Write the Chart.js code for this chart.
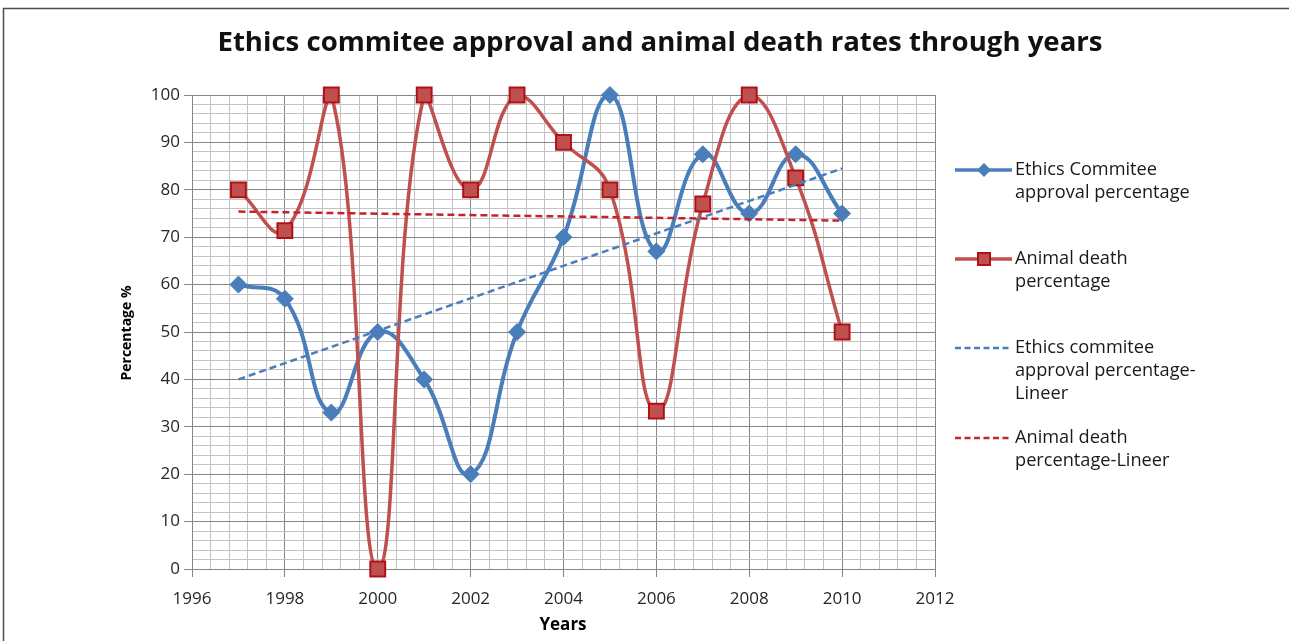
<!DOCTYPE html>
<html>
<head>
<meta charset="utf-8">
<script src="https://cdn.jsdelivr.net/npm/chart.js@4/dist/chart.umd.min.js"></script>
<style>
  html, body { margin: 0; padding: 0; background: #ffffff; }
  canvas { display: block; }
</style>
</head>
<body>
<canvas id="chart" width="1289" height="641"></canvas>
<script>
// ---- data ----
const years = [1997, 1998, 1999, 2000, 2001, 2002, 2003, 2004, 2005, 2006, 2007, 2008, 2009, 2010];
const ethicsApproval = [60, 57, 33, 50, 40, 20, 50, 70, 100, 67, 87.5, 75, 87.5, 75];
const animalDeath = [80, 71.4, 100, 0, 100, 80, 100, 90, 80, 33.3, 77, 100, 82.5, 50];

// linear trend lines (end points)
const trendYears = [1997, 2010];
const ethicsTrend = [40, 84.5];
const animalTrend = [75.4, 73.5];

// axes
const xRange = [1996, 2012];
const xLabelStep = 2;
const xGridStep = 0.4;
const yRange = [0, 100];
const yLabelStep = 10;
const yGridStep = 2;

const chartTitle = 'Ethics commitee approval and animal death rates through years';
const xTitle = 'Years';
const yTitle = 'Percentage %';
const seriesNames = [
  ['Ethics Commitee', 'approval percentage'],
  ['Animal death', 'percentage'],
  ['Ethics commitee', 'approval percentage-', 'Lineer'],
  ['Animal death', 'percentage-Lineer']
];

// ---- styles ----
const BLUE = '#4a7ebb';
const RED = '#c0504d';
const RED_EDGE = '#b01018';
const RED_TREND = '#c3242b';
const GRID_MAJOR = '#858585';
const GRID_MINOR = '#c3c3c3';
const TEXT = '#262626';
const FONT = '"Open Sans", "DejaVu Sans", sans-serif';

const toPoints = (xs, ys) => xs.map((x, i) => ({ x: x, y: ys[i] }));
const isMultiple = (v, step) => Math.abs(v / step - Math.round(v / step)) < 1e-6;

function fitFontSize(ctx, text, weight, target) {
  ctx.save();
  ctx.font = weight + ' 100px ' + FONT;
  const w = ctx.measureText(text).width;
  ctx.restore();
  return 100 * target / w;
}

// frame, title, axis titles and legend
const decorations = {
  id: 'decorations',
  beforeDraw(chart) {
    const ctx = chart.ctx;
    ctx.save();
    ctx.fillStyle = '#ffffff';
    ctx.fillRect(0, 0, chart.width, chart.height);
    ctx.strokeStyle = '#4d4d4d';
    ctx.lineWidth = 1.5;
    ctx.beginPath();
    ctx.moveTo(3.5, chart.height);
    ctx.lineTo(3.5, 8.5);
    ctx.lineTo(chart.width, 8.5);
    ctx.stroke();
    ctx.restore();
  },
  afterDraw(chart) {
    const ctx = chart.ctx;
    ctx.save();
    ctx.fillStyle = '#111111';
    ctx.textAlign = 'center';
    ctx.textBaseline = 'middle';

    // chart title
    const titleSize = fitFontSize(ctx, chartTitle, 'bold', 885);
    ctx.font = 'bold ' + titleSize.toFixed(2) + 'px ' + FONT;
    ctx.fillText(chartTitle, 660, 43);

    // axis titles
    ctx.fillStyle = '#000000';
    ctx.font = 'bold 17px ' + FONT;
    ctx.fillText(xTitle, 563, 625);
    ctx.save();
    ctx.translate(127, 333);
    ctx.rotate(-Math.PI / 2);
    ctx.font = 'bold 14px ' + FONT;
    ctx.fillText(yTitle, 0, 0);
    ctx.restore();

    // legend
    const rows = [170, 259, 348, 438];
    const lineGap = 23;
    const x0 = 955, x1 = 1012, xm = 984, tx = 1015;
    const legendSize = fitFontSize(ctx, 'approval percentage', 'normal', 175);
    rows.forEach((y, i) => {
      ctx.save();
      if (i === 0) {
        ctx.strokeStyle = BLUE; ctx.lineWidth = 3.5;
        ctx.beginPath(); ctx.moveTo(x0, y); ctx.lineTo(x1, y); ctx.stroke();
        ctx.fillStyle = BLUE;
        ctx.beginPath();
        ctx.moveTo(xm, y - 7); ctx.lineTo(xm + 7, y); ctx.lineTo(xm, y + 7); ctx.lineTo(xm - 7, y);
        ctx.closePath(); ctx.fill();
      } else if (i === 1) {
        ctx.strokeStyle = RED; ctx.lineWidth = 3.5;
        ctx.beginPath(); ctx.moveTo(x0, y); ctx.lineTo(x1, y); ctx.stroke();
        ctx.fillStyle = RED; ctx.strokeStyle = RED_EDGE; ctx.lineWidth = 2;
        ctx.fillRect(xm - 6, y - 6, 12, 12);
        ctx.strokeRect(xm - 6, y - 6, 12, 12);
      } else {
        ctx.strokeStyle = i === 2 ? BLUE : RED_TREND; ctx.lineWidth = 2.5;
        ctx.setLineDash([6, 3.5]);
        ctx.beginPath(); ctx.moveTo(x0, y); ctx.lineTo(x1, y); ctx.stroke();
      }
      ctx.restore();
      ctx.fillStyle = '#1a1a1a';
      ctx.textAlign = 'left';
      ctx.font = legendSize.toFixed(2) + 'px ' + FONT;
      seriesNames[i].forEach((line, k) => ctx.fillText(line, tx, y + k * lineGap));
    });
    ctx.restore();
  }
};

const tickFont = { family: FONT, size: 17 };

new Chart(document.getElementById('chart'), {
  type: 'line',
  data: {
    datasets: [
      {
        label: seriesNames[0].join(' '),
        data: toPoints(years, ethicsApproval),
        borderColor: BLUE, backgroundColor: BLUE,
        borderWidth: 4, tension: 0.45,
        pointStyle: 'rectRot', pointRadius: 8.5,
        pointBackgroundColor: BLUE, pointBorderColor: BLUE, pointBorderWidth: 1,
        clip: 14, order: 4
      },
      {
        label: seriesNames[1].join(' '),
        data: toPoints(years, animalDeath),
        borderColor: RED, backgroundColor: RED,
        borderWidth: 3.5, tension: 0.45,
        pointStyle: 'rect', pointRadius: 10.5,
        pointBackgroundColor: RED, pointBorderColor: RED_EDGE, pointBorderWidth: 2,
        clip: 14, order: 3
      },
      {
        label: seriesNames[2].join(' '),
        data: toPoints(trendYears, ethicsTrend),
        borderColor: BLUE, borderWidth: 2.5, borderDash: [7, 4],
        pointRadius: 0, tension: 0, order: 2
      },
      {
        label: seriesNames[3].join(' '),
        data: toPoints(trendYears, animalTrend),
        borderColor: RED_TREND, borderWidth: 2.5, borderDash: [7, 4],
        pointRadius: 0, tension: 0, order: 1
      }
    ]
  },
  options: {
    responsive: false,
    animation: false,
    events: [],
    layout: { padding: { left: 0, right: 354, top: 95, bottom: 0 } },
    plugins: {
      legend: { display: false },
      title: { display: false },
      tooltip: { enabled: false }
    },
    scales: {
      x: {
        type: 'linear',
        min: xRange[0], max: xRange[1],
        ticks: {
          stepSize: xGridStep, autoSkip: false, maxRotation: 0, minRotation: 0,
          padding: 12, color: TEXT, font: tickFont,
          callback: v => isMultiple(v, xLabelStep) ? String(Math.round(v)) : ''
        },
        grid: {
          color: c => isMultiple(c.tick.value, xLabelStep) ? GRID_MAJOR : GRID_MINOR,
          tickColor: c => isMultiple(c.tick.value, xLabelStep) ? GRID_MAJOR : 'rgba(0,0,0,0)',
          lineWidth: 1, tickLength: 8
        },
        border: { color: GRID_MAJOR, width: 1 },
        afterFit: s => { s.height = 72; }
      },
      y: {
        type: 'linear',
        min: yRange[0], max: yRange[1],
        ticks: {
          stepSize: yGridStep, autoSkip: false,
          padding: 4, color: TEXT, font: tickFont,
          callback: v => isMultiple(v, yLabelStep) ? String(Math.round(v)) : ''
        },
        grid: {
          color: c => isMultiple(c.tick.value, yLabelStep) ? GRID_MAJOR : GRID_MINOR,
          tickColor: c => isMultiple(c.tick.value, yLabelStep) ? GRID_MAJOR : 'rgba(0,0,0,0)',
          lineWidth: 1, tickLength: 8
        },
        border: { color: GRID_MAJOR, width: 1 },
        afterFit: s => { s.width = 192; }
      }
    }
  },
  plugins: [decorations]
});
</script>
</body>
</html>
